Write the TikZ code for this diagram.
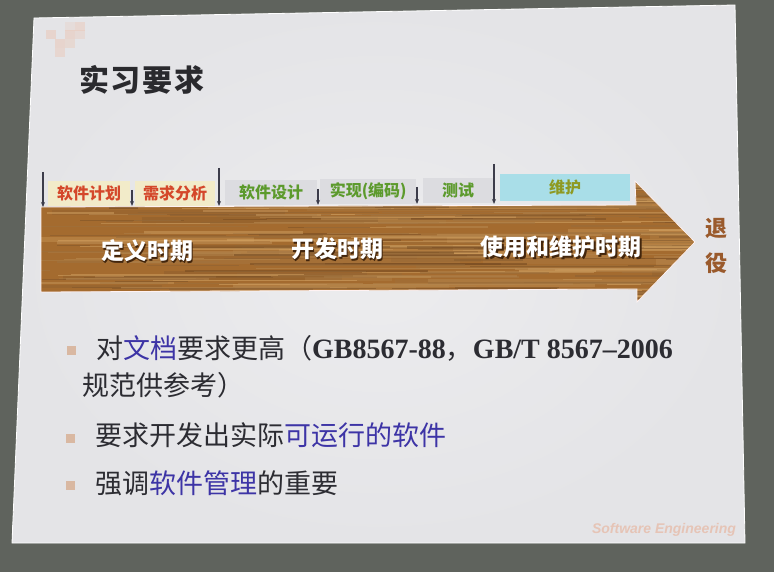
\documentclass[tikz,border=0pt]{standalone}
\usepackage{fontspec}
\setmainfont{Liberation Serif}
\newfontfamily\cjk{Noto Sans CJK SC}
\newfontfamily\cjktitle[LetterSpace=6]{Noto Sans CJK SC}
\newfontfamily\latinsans{Liberation Sans}
\usetikzlibrary{arrows.meta}

\definecolor{wallgray}{HTML}{5F635D}
\definecolor{slidebg}{HTML}{E4E4E7}
\definecolor{slidecentre}{HTML}{ECECEE}
\definecolor{sqpink}{HTML}{EBC6B4}
\definecolor{titleink}{HTML}{2A2A2E}
\definecolor{woodbase}{HTML}{A46B2F}
\definecolor{woodlight}{HTML}{DBAA68}
\definecolor{wooddark}{HTML}{5E3512}
\definecolor{tabyellow}{HTML}{F2EBC9}
\definecolor{tabgray}{HTML}{DCDCE0}
\definecolor{tabcyan}{HTML}{A9DEE8}
\definecolor{tabred}{HTML}{D4472A}
\definecolor{tabgreen}{HTML}{5C9A2C}
\definecolor{tabolive}{HTML}{8E9A22}
\definecolor{markink}{HTML}{3C3C4A}
\definecolor{retirebrown}{HTML}{9A5A2C}
\definecolor{bodyink}{HTML}{2C2C32}
\definecolor{keyblue}{HTML}{3D34A6}
\definecolor{bulletpink}{HTML}{D9B8A2}
\definecolor{footpink}{HTML}{E6C4B6}

\tikzset{
  tabbox/.style={anchor=south west, inner sep=0pt, minimum height=25pt,
    font=\cjk\bfseries\fontsize{16}{16}\selectfont},
  marker/.style={draw=markink, line width=1.1pt, -{Stealth[length=5pt,width=4pt]}},
  phase/.style={font=\cjk\bfseries\fontsize{23}{23}\selectfont, text=white},
  phaseshadow/.style={font=\cjk\bfseries\fontsize{23}{23}\selectfont, text=wooddark!70!black},
  bodytext/.style={anchor=base west, inner sep=0pt, text=bodyink,
    font=\cjk\fontsize{27}{27}\selectfont},
  bulletsq/.style={fill=bulletpink, minimum size=9pt, inner sep=0pt},
}

\begin{document}
\begin{tikzpicture}[x=1pt,y=-1pt]
\useasboundingbox (0,0) rectangle (774,572);

% wall behind the screen
\fill[wallgray] (0,0) rectangle (774,572);

% projected slide, a little brighter towards the middle
\path[inner color=slidecentre, outer color=slidebg]
  (34,18) -- (735,5) -- (745,543) -- (12,543) -- cycle;
\draw[white, line width=0.8pt] (34,18) -- (735,5) -- (745,543) -- (12,543) -- cycle;

% corner decoration
\foreach \sx/\sy/\op in {75/22/0.45, 65/22/0.25, 46/30/0.5, 65/30/0.5, 75/30/0.35,
                         55/39/0.5, 65/39/0.4, 55/48/0.45}
  \fill[sqpink, opacity=\op] (\sx,\sy) rectangle +(10,9);

% title
\node[anchor=west, inner sep=0pt, text=titleink,
      font=\cjktitle\bfseries\fontsize{30}{30}\selectfont] (title) at (79,80) {实习要求};

% wooden arrow
\def\arrowpath{(41,207) -- (636,205) -- (635,181) -- (695,242) -- (637,302) -- (637,289) -- (41,292) -- cycle}
\begin{scope}
  \clip \arrowpath;
  \fill[woodbase] (30,170) rectangle (710,310);
  \pgfmathsetseed{4242}
  % broad bands of the grain
  \foreach \k in {1,...,60}{
    \pgfmathsetmacro{\wy}{178+128*rnd}
    \pgfmathsetmacro{\wx}{10+650*rnd}
    \pgfmathsetmacro{\wl}{80+300*rnd}
    \pgfmathsetmacro{\ww}{3+4*rnd}
    \pgfmathtruncatemacro{\wc}{30+70*rnd}
    \draw[line width=\ww pt, draw=woodlight!\wc!wooddark, opacity=0.35] (\wx,\wy) -- ++(\wl,0);
  }
  % fine streaks
  \foreach \k in {1,...,380}{
    \pgfmathsetmacro{\wy}{178+128*rnd}
    \pgfmathsetmacro{\wx}{10+700*rnd}
    \pgfmathsetmacro{\wl}{25+240*rnd}
    \pgfmathsetmacro{\ww}{0.4+1.8*rnd}
    \pgfmathtruncatemacro{\wc}{15+85*rnd}
    \draw[line width=\ww pt, draw=woodlight!\wc!wooddark, opacity=0.55] (\wx,\wy) -- ++(\wl,0);
  }
\end{scope}
\draw[white!80!pink, line width=0.8pt] \arrowpath;

% phase tabs above the arrow
\node[tabbox, fill=tabyellow, text=tabred,   minimum width=82pt] (plan)   at (48,206)  {软件计划};
\node[tabbox, fill=tabyellow, text=tabred,   minimum width=80pt] (req)    at (135,206) {需求分析};
\node[tabbox, fill=tabgray,   text=tabgreen, minimum width=92pt] (design) at (225,205) {软件设计};
\node[tabbox, fill=tabgray,   text=tabgreen, minimum width=96pt] (code)   at (320,204) {实现(编码)};
\node[tabbox, fill=tabgray,   text=tabgreen, minimum width=70pt] (test)   at (423,203) {测试};
\node[tabbox, fill=tabcyan,   text=tabolive, minimum width=130pt, minimum height=27pt] (maint) at (500,201) {维护};

% boundary markers
\coordinate (m1a) at (43,172);  \coordinate (m1b) at (43,207);
\coordinate (m2a) at (132,190); \coordinate (m2b) at (132,206);
\coordinate (m3a) at (219,168); \coordinate (m3b) at (219,206);
\coordinate (m4a) at (318,189); \coordinate (m4b) at (318,205);
\coordinate (m5a) at (417,187); \coordinate (m5b) at (417,204);
\coordinate (m6a) at (494,164); \coordinate (m6b) at (494,204);
\foreach \m in {1,...,6} \draw[marker] (m\m a) -- (m\m b);

% period labels on the arrow
\node[phaseshadow] (defS)  at (148.5,252.5) {定义时期};
\node[phase]       (def)   at (147,251)     {定义时期};
\node[phaseshadow] (devS)  at (338.5,250.5) {开发时期};
\node[phase]       (dev)   at (337,249)     {开发时期};
\node[phaseshadow] (useS)  at (562.5,248.5) {使用和维护时期};
\node[phase]       (use)   at (561,247)     {使用和维护时期};

% retirement
\node[text=retirebrown, font=\cjk\bfseries\fontsize{22}{22}\selectfont, inner sep=0pt] (ret1) at (716,228) {退};
\node[text=retirebrown, font=\cjk\bfseries\fontsize{22}{22}\selectfont, inner sep=0pt] (ret2) at (716,263) {役};

% bullet list
\node[bulletsq] (b1) at (71,350) {};
\node[bulletsq] (b2) at (70,438) {};
\node[bulletsq] (b3) at (70,485) {};

\node[bodytext] (l1) at (96,358)
  {对\textcolor{keyblue}{文档}要求更高（{\bfseries\fontspec{Liberation Serif}\fontsize{28}{28}\selectfont GB8567-88}，{\bfseries\fontspec{Liberation Serif}\fontsize{28}{28}\selectfont GB/T 8567–2006}};
\node[bodytext] (l2) at (82,395) {规范供参考）};
\node[bodytext] (l3) at (95,445) {要求开发出实际\textcolor{keyblue}{可运行的软件}};
\node[bodytext] (l4) at (95,493) {强调\textcolor{keyblue}{软件管理}的重要};

% footer
\node[text=footpink, font=\latinsans\bfseries\itshape\fontsize{14}{14}\selectfont, inner sep=0pt] (foot) at (664,530) {Software Engineering};
\end{tikzpicture}
\end{document}
